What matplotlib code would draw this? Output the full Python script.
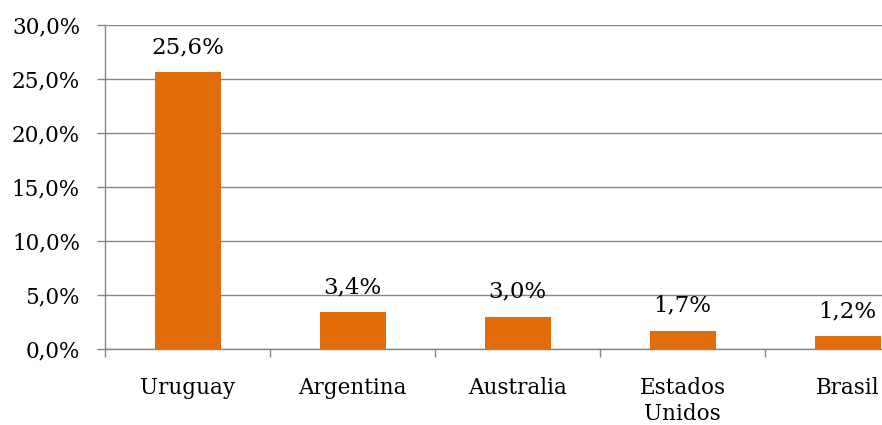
import matplotlib
matplotlib.use("Agg")
import matplotlib.pyplot as plt
from matplotlib.ticker import FixedLocator

categories = ["Uruguay", "Argentina", "Australia", "Estados\nUnidos", "Brasil"]
values = [25.6, 3.4, 3.0, 1.7, 1.2]
yticks = [0, 5, 10, 15, 20, 25, 30]
ytick_labels = ["0,0%", "5,0%", "10,0%", "15,0%", "20,0%", "25,0%", "30,0%"]
value_labels = ["25,6%", "3,4%", "3,0%", "1,7%", "1,2%"]

plt.rcParams['font.family'] = ['DejaVu Serif']
fig = plt.figure(figsize=(8.82, 4.25), dpi=100)
ax = fig.add_axes([105/882, 76/425, 825/882, 324.5/425])

bar_color = "#E36C0A"
grid_color = "#868686"
x = list(range(len(categories)))
ax.bar(x, values, width=0.4, color=bar_color, zorder=3)

ax.set_xlim(-0.5, len(categories) - 0.5)
ax.set_ylim(0, 30)
ax.set_yticks(yticks)
ax.set_yticklabels(ytick_labels, fontsize=15.5)
ax.yaxis.grid(True, color=grid_color, linewidth=1, zorder=0)
ax.tick_params(axis='y', length=6, width=1, color=grid_color, pad=12)

ax.set_xticks(x)
ax.set_xticklabels(categories, fontsize=15.5, linespacing=1.25)
ax.tick_params(axis='x', which='major', length=0, pad=20)
ax.xaxis.set_minor_locator(FixedLocator([i - 0.5 for i in range(len(categories) + 1)]))
ax.tick_params(axis='x', which='minor', length=6, width=1, color=grid_color)

for s in ['top', 'right']:
    ax.spines[s].set_visible(False)
for s in ['left', 'bottom']:
    ax.spines[s].set_color(grid_color)
    ax.spines[s].set_linewidth(1)

for xi, v, lab in zip(x, values, value_labels):
    ax.annotate(lab, (xi, v), xytext=(0, 18), textcoords='offset points',
                ha='center', va='center', fontsize=16.5)

fig.savefig("out.png", dpi=100)
